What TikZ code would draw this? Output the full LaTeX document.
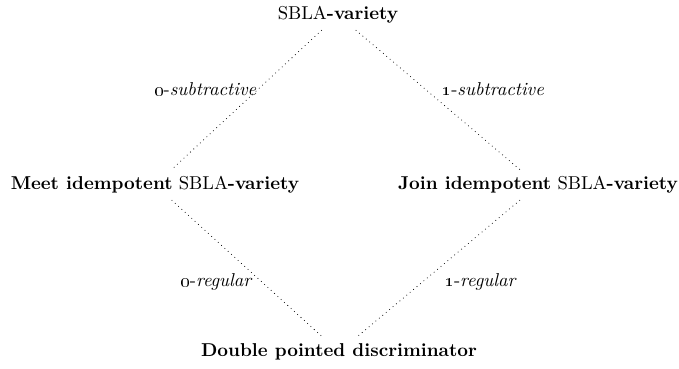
\documentclass[tikz,border=0pt]{standalone}
\usepackage{amsmath}
\usepackage{tikz}

\tikzset{
  link/.style={dotted, line width=0.4pt},
  lbl/.style={inner sep=1pt}
}
\newcommand{\osn}[1]{\oldstylenums{#1}}

\begin{document}
\begin{tikzpicture}[x=0.537pt, y=-0.537pt]
\useasboundingbox (0, 0) rectangle (679, 368);
\node (sbla) at (338, 15) {SBLA\textbf{-variety}};
\node (meet) at (155, 185) {\textbf{Meet idempotent} SBLA\textbf{-variety}};
\node (join) at (538, 185) {\textbf{Join idempotent} SBLA\textbf{-variety}};
\node (dpd) at (339, 352) {\textbf{Double pointed discriminator}};
\draw [link] (sbla) -- node [lbl, left, pos=0.42] {\osn{0}-\textit{subtractive}} (meet);
\draw [link] (sbla) -- node [lbl, right, pos=0.42, xshift=8pt] {\osn{1}-\textit{subtractive}} (join);
\draw [link] (meet) -- node [lbl, left, pos=0.6, xshift=-4pt] {\osn{0}-\textit{regular}} (dpd);
\draw [link] (join) -- node [lbl, right, pos=0.6, xshift=11pt] {\osn{1}-\textit{regular}} (dpd);
\end{tikzpicture}
\end{document}
